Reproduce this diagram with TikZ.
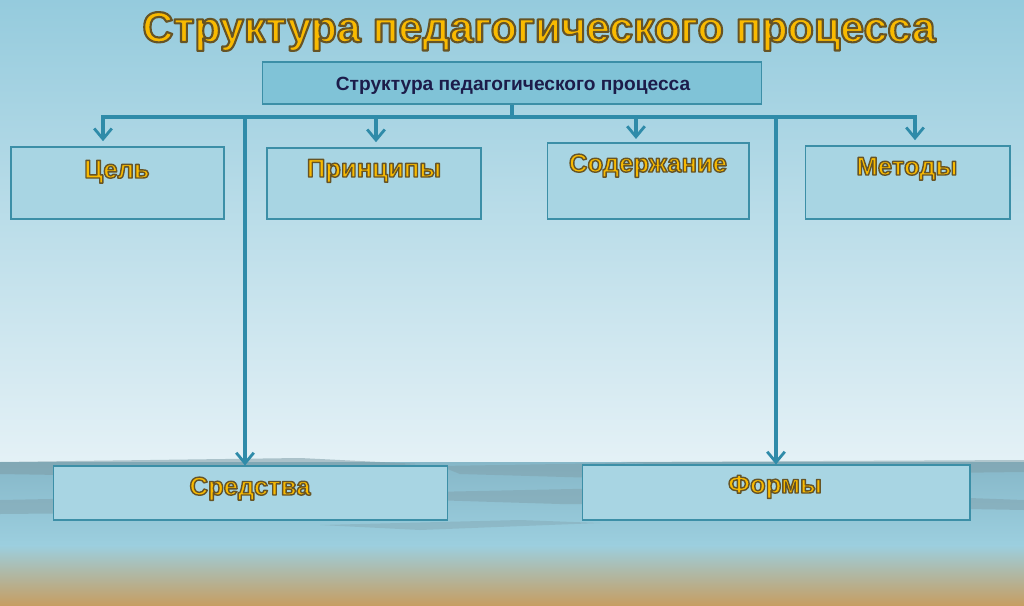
\documentclass[tikz,border=0pt]{standalone}
\usepackage{fontspec}
\setmainfont{Liberation Sans}
\usetikzlibrary{arrows.meta}
\definecolor{skytop}{HTML}{95CBDD}
\definecolor{skymid}{HTML}{C3E2EC}
\definecolor{skylow}{HTML}{E4F1F6}
\definecolor{seatop}{HTML}{86B7C8}
\definecolor{sealow}{HTML}{9CCFDF}
\definecolor{sand}{HTML}{C69E63}
\definecolor{haze}{HTML}{7E9CA6}
\definecolor{boxfill}{HTML}{A8D5E3}
\definecolor{headfill}{HTML}{80C3D7}
\definecolor{boxline}{HTML}{3C8FA7}
\definecolor{wire}{HTML}{2F8BA9}
\definecolor{gold}{HTML}{F9BA00}
\definecolor{navy}{HTML}{1C1C4A}
% gold letters with a dark rim (fill and stroke in one pass)
\newcommand{\goldtext}[2]{\textcolor{gold}{\special{pdf:literal direct 0.40 0.33 0.15 RG #1 w 1 j 2 Tr}#2\special{pdf:literal direct 0 Tr}}}

\begin{document}
\begin{tikzpicture}[x=0.02cm,y=-0.02cm,
	box/.style={draw=boxline,fill=boxfill,line width=0.6pt,inner sep=0},
	lbl/.style={font=\bfseries\fontsize{14.6}{18}\selectfont,inner sep=0,anchor=base},
	wireline/.style={draw=wire,line width=1.9pt},
	arr/.style={wireline,-{Straight Barb[length=6pt,width=10pt,line width=1.6pt]}}]
	\useasboundingbox (0,0) rectangle (1024,605);
	% background
	\shade[top color=skytop,middle color=skymid,bottom color=skylow] (0,0) rectangle (1024,462);
	\shade[top color=seatop,bottom color=sealow] (0,462) rectangle (1024,546);
	\shade[top color=sealow,middle color=sealow!60!sand,bottom color=sand] (0,545) rectangle (1024,605);
	\fill[haze,opacity=0.55] (0,462) -- (300,458) -- (420,464) -- (300,470) -- (120,476) -- (0,474) -- cycle;
	\fill[haze,opacity=0.45] (440,466) -- (620,463) -- (760,470) -- (600,478) -- (460,474) -- cycle;
	\fill[haze,opacity=0.5] (620,462) -- (1024,460) -- (1024,472) -- (860,474) -- (700,468) -- cycle;
	\fill[haze,opacity=0.45] (0,500) -- (200,496) -- (380,503) -- (220,512) -- (0,514) -- cycle;
	\fill[haze,opacity=0.45] (430,492) -- (620,488) -- (860,494) -- (1024,500) -- (1024,510) -- (800,506) -- (560,504) -- (430,500) -- cycle;
	\fill[haze,opacity=0.35] (320,525) -- (520,520) -- (600,523) -- (420,530) -- cycle;
	% title
	\node[inner sep=0,anchor=base] (t) at (539,42) {\bfseries\fontsize{24.4}{30}\selectfont\goldtext{1.2}{Структура педагогического процесса}};
	% boxes
	\node[box,fill=headfill,minimum width=10cm,minimum height=0.84cm] (0) at (512,83) {};
	\node[font=\bfseries\fontsize{10.9}{12}\selectfont,text=navy,inner sep=0,anchor=base] (0t) at (513,90) {Структура педагогического процесса};
	\node[box,minimum width=4.26cm,minimum height=1.44cm] (1) at (117.5,183) {};
	\node[box,minimum width=4.28cm,minimum height=1.42cm] (2) at (374,183.5) {};
	\node[box,minimum width=4.04cm,minimum height=1.52cm] (3) at (648,181) {};
	\node[box,minimum width=4.1cm,minimum height=1.46cm] (4) at (907.5,182.5) {};
	\node[box,minimum width=7.9cm,minimum height=1.08cm] (5) at (250.5,493) {};
	\node[box,minimum width=7.76cm,minimum height=1.1cm] (6) at (776,492.5) {};
	\node[lbl] (1t) at (117,178) {\goldtext{0.8}{Цель}};
	\node[lbl] (2t) at (374,177) {\goldtext{0.8}{Принципы}};
	\node[lbl] (3t) at (648,172) {\goldtext{0.8}{Содержание}};
	\node[lbl] (4t) at (907,175) {\goldtext{0.8}{Методы}};
	\node[lbl] (5t) at (250,495) {\goldtext{0.8}{Средства}};
	\node[lbl] (6t) at (775,493) {\goldtext{0.8}{Формы}};
	% connectors
	\coordinate (b) at (512,117);
	\coordinate (bl) at (103,117);
	\coordinate (br) at (915,117);
	\coordinate (c2) at (376,117);
	\coordinate (c3) at (636,117);
	\coordinate (d5) at (245,117);
	\coordinate (d6) at (776,117);
	\draw[wireline] (0) -- (b);
	\draw[wireline,line cap=rect] (bl) -- (br);
	\draw[arr,shorten >=3pt] (bl) -- (bl |- 1.north);
	\draw[arr,shorten >=3pt] (c2) -- (c2 |- 2.north);
	\draw[arr,shorten >=2pt] (c3) -- (c3 |- 3.north);
	\draw[arr,shorten >=3pt] (br) -- (br |- 4.north);
	\draw[arr] (d5) -- (d5 |- 5.north);
	\draw[arr] (d6) -- (d6 |- 6.north);
\end{tikzpicture}
\end{document}
